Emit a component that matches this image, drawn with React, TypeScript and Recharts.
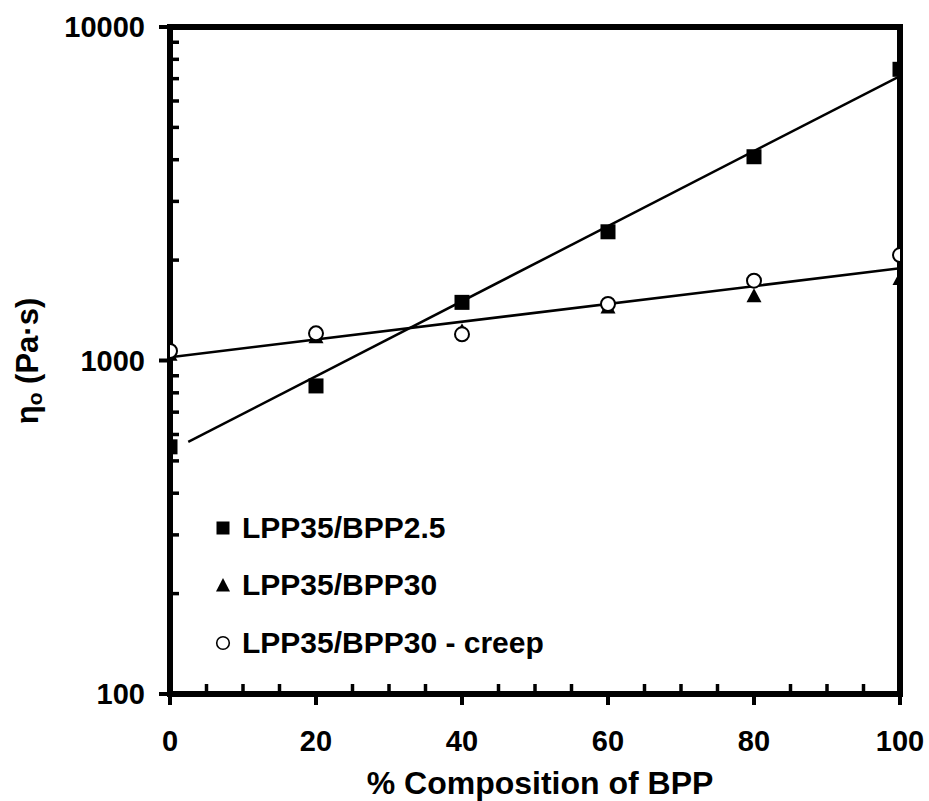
import * as React from "react";
import {
  Legend,
  Scatter,
  ScatterChart,
  XAxis,
  YAxis,
} from "recharts";

// % composition of BPP in the blend
const composition = [0, 20, 40, 60, 80, 100];

// zero-shear viscosity, Pa·s
const bpp25 = [551, 839, 1494, 2432, 4083, 7467];
const bpp30 = [1040, 1174, 1224, 1443, 1558, 1756];
const bpp30Creep = [1068, 1206, 1198, 1477, 1735, 2071];

// fitted trend lines (end points)
const trend25X = [2.5, 100];
const trend25Y = [570, 7130];
const trend30X = [0, 100];
const trend30Y = [1022, 1890];

const xTicks = [0, 20, 40, 60, 80, 100];
const xMinorTicks = [5, 10, 15, 25, 30, 35, 45, 50, 55, 65, 70, 75, 85, 90, 95];
const yTicks = [100, 1000, 10000];
const yMinorTicks = [
  200, 300, 400, 500, 600, 700, 800, 900,
  2000, 3000, 4000, 5000, 6000, 7000, 8000, 9000,
];

const legendItems = [
  { name: "LPP35/BPP2.5", marker: "square" },
  { name: "LPP35/BPP30", marker: "triangle" },
  { name: "LPP35/BPP30 - creep", marker: "circle" },
];

const FONT = "'Liberation Sans', Arial, sans-serif";

const toPoints = (xs: number[], ys: number[]) => xs.map((x, i) => ({ x, y: ys[i] }));

const SquareDot = (p: any) => (
  <rect x={p.cx - 7.5} y={p.cy - 7.5} width={15} height={15} fill="#000" />
);
const TriangleDot = (p: any) => (
  <polygon
    points={`${p.cx},${p.cy - 8} ${p.cx - 7.5},${p.cy + 6} ${p.cx + 7.5},${p.cy + 6}`}
    fill="#000"
  />
);
const CircleDot = (p: any) => (
  <circle cx={p.cx} cy={p.cy} r={7} fill="#fff" stroke="#000" strokeWidth={2} />
);
const NoDot = () => <g />;
const NoLabel = () => <g />;

function LegendMarker({ type }: { type: string }) {
  return (
    <svg width={16} height={16} style={{ display: "block" }}>
      {type === "square" && <rect x={1.5} y={1.5} width={13} height={13} fill="#000" />}
      {type === "triangle" && <polygon points="8,1 1,14.5 15,14.5" fill="#000" />}
      {type === "circle" && (
        <circle cx={8} cy={8} r={6.3} fill="#fff" stroke="#000" strokeWidth={1.6} />
      )}
    </svg>
  );
}

function LegendContent() {
  return (
    <div style={{ fontFamily: FONT, fontWeight: "bold", fontSize: 30 }}>
      {legendItems.map((it) => (
        <div
          key={it.name}
          style={{ display: "flex", alignItems: "center", height: 57.5, whiteSpace: "nowrap" }}
        >
          <LegendMarker type={it.marker} />
          <span style={{ marginLeft: 11 }}>{it.name}</span>
        </div>
      ))}
    </div>
  );
}

const YTitle = () => (
  <text
    x={38}
    y={361}
    transform="rotate(-90 38 361)"
    textAnchor="middle"
    fontFamily={FONT}
    fontWeight="bold"
    fontSize={31}
    fill="#000"
  >
    η
    <tspan fontSize={21} dy={4}>o</tspan>
    <tspan dy={-4}> (Pa·s)</tspan>
  </text>
);

const XTitle = () => (
  <text
    x={540}
    y={794}
    textAnchor="middle"
    fontFamily={FONT}
    fontWeight="bold"
    fontSize={32}
    fill="#000"
  >
    % Composition of BPP
  </text>
);

const tickFont = { fill: "#000", fontSize: 29, fontWeight: "bold", fontFamily: FONT };
const axisStroke = { stroke: "#000", strokeWidth: 6, strokeLinecap: "square" as const };
const majorTick = { stroke: "#000", strokeWidth: 4 };
const minorTick = { stroke: "#000", strokeWidth: 3.5 };

export default function App() {
  return (
    <div style={{ position: "absolute", left: 0, top: 0, background: "#fff" }}>
      <ScatterChart
        width={929}
        height={801}
        margin={{ top: 26, right: 28, bottom: 0, left: 0 }}
      >
        <XAxis
          dataKey="x"
          type="number"
          domain={[0, 100]}
          ticks={xTicks}
          height={107}
          allowDataOverflow
          axisLine={axisStroke}
          tickLine={majorTick}
          tickSize={11}
          tickMargin={25}
          tick={tickFont}
          label={XTitle}
        />
        <XAxis
          xAxisId="minor"
          dataKey="x"
          type="number"
          domain={[0, 100]}
          ticks={xMinorTicks}
          interval={0}
          height={1}
          mirror
          allowDataOverflow
          axisLine={false}
          tick={NoLabel}
          tickLine={minorTick}
          tickSize={10}
        />
        <XAxis
          xAxisId="top"
          dataKey="x"
          orientation="top"
          type="number"
          domain={[0, 100]}
          height={1}
          allowDataOverflow
          axisLine={axisStroke}
          tick={false}
          tickLine={false}
        />
        <YAxis
          dataKey="y"
          type="number"
          scale="log"
          domain={[100, 10000]}
          ticks={yTicks}
          width={170}
          allowDataOverflow
          axisLine={axisStroke}
          tickLine={majorTick}
          tickSize={11}
          tickMargin={14}
          tick={tickFont}
          label={YTitle}
        />
        <YAxis
          yAxisId="minor"
          dataKey="y"
          type="number"
          scale="log"
          domain={[100, 10000]}
          ticks={yMinorTicks}
          interval={0}
          width={1}
          mirror
          allowDataOverflow
          axisLine={false}
          tick={NoLabel}
          tickLine={minorTick}
          tickSize={9}
        />
        <YAxis
          yAxisId="right"
          dataKey="y"
          orientation="right"
          type="number"
          scale="log"
          domain={[100, 10000]}
          width={1}
          allowDataOverflow
          axisLine={axisStroke}
          tick={false}
          tickLine={false}
        />
        {/* invisible series so the frame and minor-tick axes get a scale */}
        <Scatter
          name="minor"
          xAxisId="minor"
          yAxisId="minor"
          data={toPoints(composition, bpp25)}
          shape={NoDot}
          legendType="none"
          isAnimationActive={false}
        />
        <Scatter
          name="frame"
          xAxisId="top"
          yAxisId="right"
          data={toPoints(composition, bpp25)}
          shape={NoDot}
          legendType="none"
          isAnimationActive={false}
        />
        <Scatter
          name="trend25"
          data={toPoints(trend25X, trend25Y)}
          line={{ stroke: "#000", strokeWidth: 2.5 }}
          shape={NoDot}
          legendType="none"
          isAnimationActive={false}
        />
        <Scatter
          name="trend30"
          data={toPoints(trend30X, trend30Y)}
          line={{ stroke: "#000", strokeWidth: 2.5 }}
          shape={NoDot}
          legendType="none"
          isAnimationActive={false}
        />
        <Scatter
          name="LPP35/BPP30"
          data={toPoints(composition, bpp30)}
          shape={TriangleDot}
          isAnimationActive={false}
        />
        <Scatter
          name="LPP35/BPP2.5"
          data={toPoints(composition, bpp25)}
          shape={SquareDot}
          isAnimationActive={false}
        />
        <Scatter
          name="LPP35/BPP30 - creep"
          data={toPoints(composition, bpp30Creep)}
          shape={CircleDot}
          isAnimationActive={false}
        />
        <Legend
          layout="vertical"
          align="center"
          verticalAlign="middle"
          wrapperStyle={{ left: 215, top: 499, width: 400 }}
          content={LegendContent}
        />
      </ScatterChart>
    </div>
  );
}
